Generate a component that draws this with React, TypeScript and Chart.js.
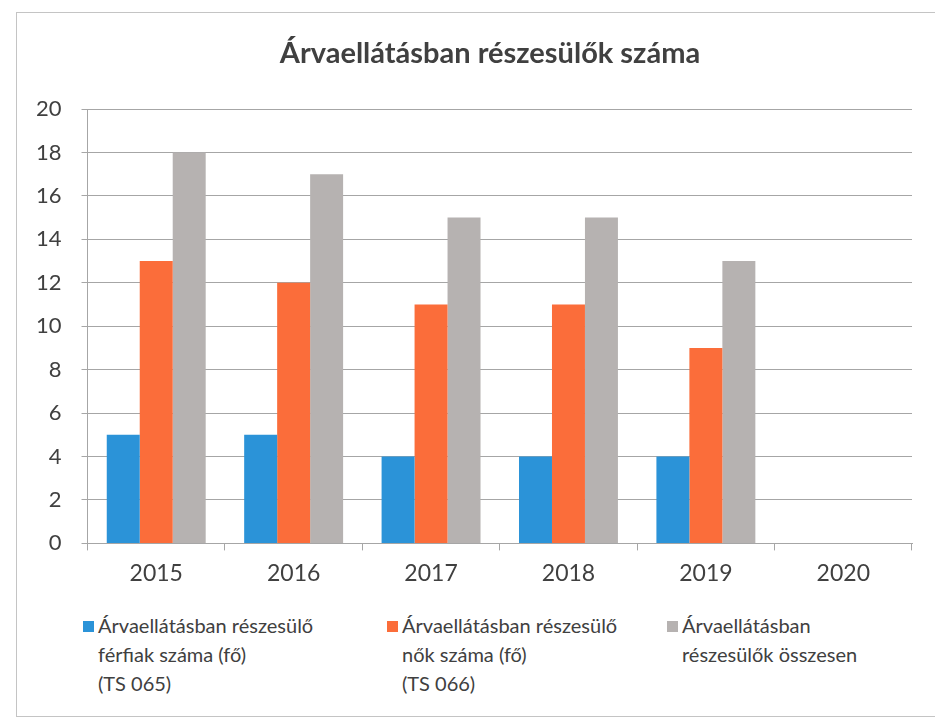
import React, { useEffect, useRef } from "react";
import { Chart, registerables } from "chart.js";

Chart.register(...registerables);

const title = "Árvaellátásban részesülők száma";
const categories = ["2015", "2016", "2017", "2018", "2019", "2020"];
const menValues: (number | null)[] = [5, 5, 4, 4, 4, null];
const womenValues: (number | null)[] = [13, 12, 11, 11, 9, null];
const totalValues: (number | null)[] = [18, 17, 15, 15, 13, null];
const seriesNames = [
  "Árvaellátásban részesülő férfiak száma (fő) (TS 065)",
  "Árvaellátásban részesülő nők száma (fő) (TS 066)",
  "Árvaellátásban részesülők összesen",
];
const legendLines = [
  ["Árvaellátásban részesülő", "férfiak száma (fő)", "(TS 065)"],
  ["Árvaellátásban részesülő", "nők száma (fő)", "(TS 066)"],
  ["Árvaellátásban", "részesülők összesen"],
];
const colors = ["#2b93d8", "#fb6d3a", "#b6b2b1"];
const yMax = 20;
const yStep = 2;

const FONT = "Lato, 'Open Sans', 'Noto Sans', sans-serif";
const TEXT = "#404040";

export default function App() {
  const ref = useRef<HTMLCanvasElement | null>(null);

  useEffect(() => {
    if (!ref.current) return;
    const chart = new Chart(ref.current, {
      type: "bar",
      data: {
        labels: categories,
        datasets: [menValues, womenValues, totalValues].map((d, i) => ({
          label: seriesNames[i],
          data: d,
          backgroundColor: colors[i],
          borderWidth: 0,
          categoryPercentage: 0.72,
          barPercentage: 1.0,
        })),
      },
      options: {
        animation: false,
        responsive: false,
        maintainAspectRatio: false,
        layout: { padding: { left: 16, right: 23, top: 109, bottom: 4 } },
        plugins: {
          legend: { display: false },
          tooltip: { enabled: false },
          title: { display: false },
        },
        scales: {
          x: {
            grid: {
              display: true,
              drawOnChartArea: false,
              drawTicks: true,
              tickLength: 7,
              color: "#a6a6a6",
              offset: true,
            },
            border: { display: true, color: "#a6a6a6" },
            ticks: {
              color: TEXT,
              font: { family: FONT, size: 23 },
              padding: 9,
            },
          },
          y: {
            min: 0,
            max: yMax,
            ticks: {
              stepSize: yStep,
              color: TEXT,
              font: { family: FONT, size: 22 },
              padding: 20,
            },
            grid: {
              color: "#a6a6a6",
              drawTicks: true,
              tickLength: 6,
            },
            border: { display: true, color: "#a6a6a6" },
          },
        },
      },
    });
    return () => chart.destroy();
  }, []);

  return (
    <div
      style={{
        position: "absolute",
        left: 0,
        top: 0,
        width: 935,
        height: 726,
        background: "#ffffff",
        overflow: "hidden",
        fontFamily: FONT,
      }}
    >
      <div
        style={{
          position: "absolute",
          left: 16,
          top: 12,
          width: 940,
          height: 705,
          border: "1px solid #c4c4c4",
          boxSizing: "border-box",
        }}
      />
      <canvas
        ref={ref}
        width={935}
        height={600}
        style={{ position: "absolute", left: 0, top: 0, width: 935, height: 600 }}
      />
      <div
        style={{
          position: "absolute",
          left: 190,
          width: 600,
          top: 36,
          textAlign: "center",
          color: TEXT,
          fontSize: 29,
          fontWeight: "bold",
          lineHeight: "32px",
          whiteSpace: "nowrap",
        }}
      >
        {title}
      </div>
      {legendLines.map((lines, i) => {
        const lefts = [83, 387, 667];
        return (
          <div
            key={i}
            style={{
              position: "absolute",
              left: lefts[i],
              top: 611,
              display: "flex",
              alignItems: "flex-start",
            }}
          >
            <div
              style={{
                width: 11,
                height: 11,
                background: colors[i],
                marginTop: 10,
                marginRight: 4,
              }}
            />
            <div style={{ color: TEXT, fontSize: 20, lineHeight: "29px", whiteSpace: "nowrap" }}>
              {lines.map((l, j) => (
                <div key={j}>{l}</div>
              ))}
            </div>
          </div>
        );
      })}
    </div>
  );
}
